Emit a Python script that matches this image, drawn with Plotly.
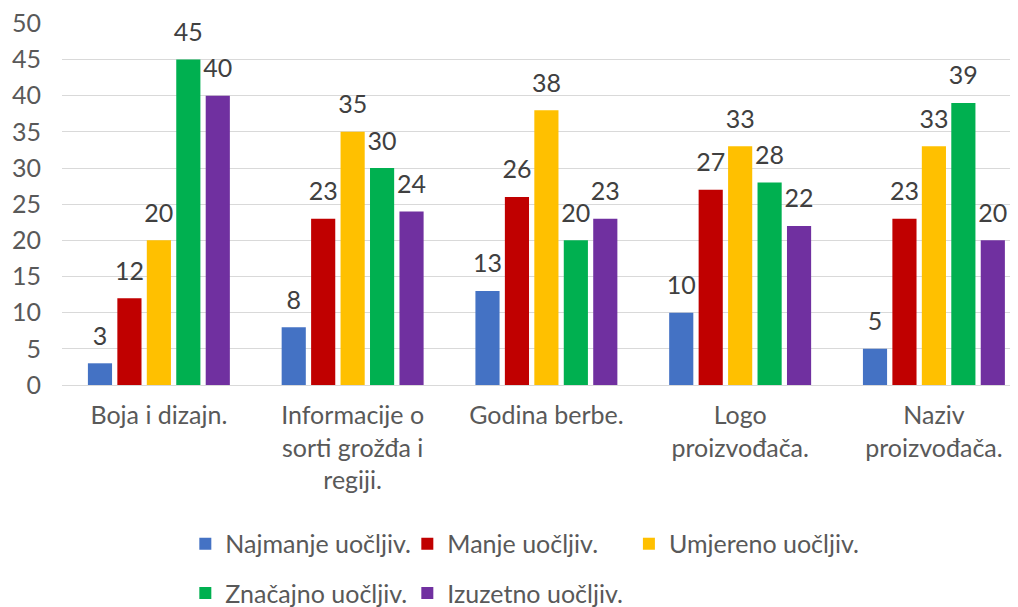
import plotly.graph_objects as go

categories = ["Boja i dizajn.", "Informacije o<br>sorti grožđa i<br>regiji.", "Godina berbe.",
              "Logo<br>proizvođača.", "Naziv<br>proizvođača."]
series_names = ["Najmanje uočljiv.", "Manje uočljiv.", "Umjereno uočljiv.",
                "Značajno uočljiv.", "Izuzetno uočljiv."]
najmanje = [3, 8, 13, 10, 5]
manje = [12, 23, 26, 27, 23]
umjereno = [20, 35, 38, 33, 33]
znacajno = [45, 30, 20, 28, 39]
izuzetno = [40, 24, 23, 22, 20]
colors = ["#4472C4", "#C00000", "#FFC000", "#00B050", "#7030A0"]
legend_ids = ["legend", "legend", "legend3", "legend2", "legend2"]

FONT = "Lato, Open Sans, sans-serif"
TXT = "#595959"
FS = 25

fig = go.Figure()
all_vals = [najmanje, manje, umjereno, znacajno, izuzetno]
xs = list(range(len(categories)))
for name, vals, col, lg in zip(series_names, all_vals, colors, legend_ids):
    fig.add_trace(go.Bar(
        x=xs, y=vals, name=name,
        marker=dict(color=col, line=dict(width=0)),
        legend=lg, hoverinfo="skip",
    ))
for name, vals in zip(series_names, all_vals):
    fig.add_trace(go.Scatter(
        x=xs, y=vals, name=name, mode="markers+text", showlegend=False,
        marker=dict(size=18, opacity=0),
        text=[str(v) for v in vals], textposition="top center",
        textfont=dict(size=FS, color="#404040", family=FONT),
        cliponaxis=False, hoverinfo="skip",
    ))

leg_common = dict(orientation="h", xanchor="left", yanchor="middle", yref="container",
                  itemwidth=30, font=dict(size=FS, color=TXT, family=FONT),
                  bgcolor="rgba(0,0,0,0)")

fig.update_layout(
    width=1018, height=607,
    margin=dict(l=54, r=8, t=15, b=230),
    paper_bgcolor="white", plot_bgcolor="white",
    barmode="group", bargap=0.24, bargroupgap=0.18,
    scattermode="group", scattergap=0.24,
    font=dict(family=FONT, size=FS, color=TXT),
    xaxis=dict(tickmode="array", tickvals=xs, ticktext=categories,
               range=[-0.5, 4.434], showgrid=False, showline=True, linecolor="#d9d9d9",
               linewidth=1, ticks="", automargin=False, ticklabelstandoff=8,
               tickfont=dict(size=FS, color=TXT, family=FONT)),
    yaxis=dict(range=[0, 50.05], dtick=5, showgrid=True, gridcolor="#d9d9d9", gridwidth=1,
               zeroline=False, showline=False, ticks="", automargin=False,
               ticklabelstandoff=20, ticklabeloverflow="allow",
               tickfont=dict(size=FS, color=TXT, family=FONT)),
    legend=dict(x=0.129, y=0.117, entrywidth=177, entrywidthmode="pixels", **leg_common),
    legend2=dict(x=0.129, y=0.036, entrywidth=177, entrywidthmode="pixels", **leg_common),
    legend3=dict(x=0.593, y=0.117, **leg_common),
)

fig.write_html("out.html")
